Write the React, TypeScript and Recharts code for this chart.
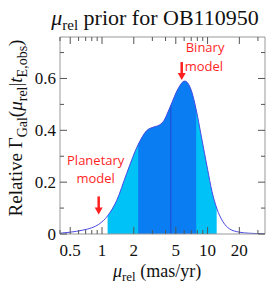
import { ComposedChart, Area, Line, XAxis, YAxis, ReferenceLine, ReferenceDot } from "recharts";

// mu_rel grid (mas/yr) and relative Gamma_Gal
const MU = [0.4, 0.5, 0.66, 0.8, 0.93, 1.13, 1.38, 1.71, 2.2, 2.64, 3.1, 3.48, 3.79, 4.48, 5.25, 6.06, 7.0, 7.8, 8.75, 10.0, 11.0, 12.2, 14.0, 16.1, 20, 25, 35];
const DENSITY = [0.003, 0.007, 0.015, 0.024, 0.037, 0.07, 0.13, 0.233, 0.345, 0.398, 0.413, 0.42, 0.433, 0.496, 0.56, 0.59, 0.555, 0.48, 0.374, 0.25, 0.165, 0.1, 0.047, 0.02, 0.007, 0.003, 0.001];

const BAND_2SIG = [1.13, 12.2];
const BAND_1SIG = [2.2, 7.8];
const MEDIAN = 4.48;
const PLANETARY_MU = 0.93;
const BINARY_MU = 5.69;

const X_MAJOR = [0.5, 1, 2, 5, 10, 20];
const X_MINOR = [0.4, 0.6, 0.7, 0.8, 0.9, 3, 4, 6, 7, 8, 9, 30];
const Y_TICKS = [0, 0.1, 0.2, 0.3, 0.4, 0.5, 0.6, 0.7];
const Y_LABELS = [0, 0.2, 0.4, 0.6];

const data = MU.map((mu, i) => ({
  mu,
  pdf: DENSITY[i],
  outer: mu >= BAND_2SIG[0] && mu <= BAND_2SIG[1] ? DENSITY[i] : null,
  inner: mu >= BAND_1SIG[0] && mu <= BAND_1SIG[1] ? DENSITY[i] : null,
}));

const medianY = DENSITY[MU.indexOf(MEDIAN)];
const planetY = 0.037;
const binaryY = 0.59;

const SERIF = "Liberation Serif, DejaVu Serif, serif";
const SANS = "Open Sans, Liberation Sans, sans-serif";
const TICK = "#555";
const FRAME = "#999";
const RED = "#ff1f1f";

const W = 273;
const H = 290;

function BottomTick(props: any) {
  const { x, y, payload } = props;
  const major = X_MAJOR.includes(payload.value);
  return (
    <g>
      <line x1={x} x2={x} y1={y} y2={y - (major ? 7 : 4)} stroke={TICK} />
      {major && (
        <text x={x} y={y + 22} textAnchor="middle" fontFamily={SERIF} fontSize={17} fill="#111">
          {payload.value}
        </text>
      )}
    </g>
  );
}

function TopTick(props: any) {
  const { x, y, payload } = props;
  const major = X_MAJOR.includes(payload.value);
  return <line x1={x} x2={x} y1={y} y2={y + (major ? 7 : 4)} stroke={TICK} />;
}

function LeftTick(props: any) {
  const { x, y, payload } = props;
  const major = Y_LABELS.includes(payload.value);
  return (
    <g>
      <line x1={x} x2={x + (major ? 7 : 4)} y1={y} y2={y} stroke={TICK} />
      {major && (
        <text x={x - 4} y={y + 6} textAnchor="end" fontFamily={SERIF} fontSize={17} fill="#111">
          {payload.value}
        </text>
      )}
    </g>
  );
}

function RightTick(props: any) {
  const { x, y, payload } = props;
  const major = Y_LABELS.includes(payload.value);
  return <line x1={x} x2={x - (major ? 7 : 4)} y1={y} y2={y} stroke={TICK} />;
}

function DownArrow({ x, y }: { x: number; y: number }) {
  return (
    <g>
      <line x1={x} x2={x} y1={y - 18} y2={y - 6} stroke={RED} strokeWidth={2.5} />
      <polygon points={`${x - 4},${y - 7} ${x + 4},${y - 7} ${x},${y}`} fill={RED} />
    </g>
  );
}

function PlanetaryMark(props: any) {
  const { cx, cy } = props;
  return (
    <g>
      <DownArrow x={cx} y={cy - 10} />
      <text x={cx - 3} y={cy - 59} textAnchor="middle" fontFamily={SANS} fontSize={13} fill={RED}>Planetary</text>
      <text x={cx - 3} y={cy - 41} textAnchor="middle" fontFamily={SANS} fontSize={13} fill={RED}>model</text>
    </g>
  );
}

function BinaryMark(props: any) {
  const { cx, cy } = props;
  return (
    <g>
      <DownArrow x={cx} y={cy - 1} />
      <text x={cx + 4} y={cy - 29} fontFamily={SANS} fontSize={13} fill={RED}>Binary</text>
      <text x={cx + 3} y={cy - 10} fontFamily={SANS} fontSize={13} fill={RED}>model</text>
    </g>
  );
}

export default function App() {
  const xProps = {
    type: "number" as const,
    dataKey: "mu",
    scale: "log" as const,
    domain: [0.4, 35],
    allowDataOverflow: true,
    ticks: [...X_MAJOR, ...X_MINOR].sort((a, b) => a - b),
    tickLine: false,
    tickSize: 0,
    tickMargin: 0,
    axisLine: { stroke: FRAME },
    interval: 0 as const,
  };
  const yProps = {
    type: "number" as const,
    domain: [0, 0.76],
    allowDataOverflow: true,
    ticks: Y_TICKS,
    tickLine: false,
    tickSize: 0,
    tickMargin: 0,
    axisLine: { stroke: FRAME },
    interval: 0 as const,
  };

  return (
    <div style={{ position: "absolute", left: 0, top: 0, width: W, height: H, background: "#fff" }}>
      <ComposedChart width={W} height={H} data={data} margin={{ top: 36, right: 7, bottom: 26, left: 30 }}>
        <XAxis xAxisId="main" orientation="bottom" height={30} {...xProps} tick={<BottomTick />} />
        <XAxis xAxisId="top" orientation="top" height={1} {...xProps} tick={<TopTick />} />
        <YAxis yAxisId="left" orientation="left" width={30} {...yProps} tick={<LeftTick />} />
        <YAxis yAxisId="right" orientation="right" width={1} {...yProps} tick={<RightTick />} />
        <Area xAxisId="main" yAxisId="left" type="monotone" dataKey="outer" stroke="none" fill="#00c2f6" fillOpacity={1} isAnimationActive={false} />
        <Area xAxisId="main" yAxisId="left" type="monotone" dataKey="inner" stroke="none" fill="#0b7df2" fillOpacity={1} isAnimationActive={false} />
        <ReferenceLine
          xAxisId="main"
          yAxisId="left"
          segment={[{ x: MEDIAN, y: 0 }, { x: MEDIAN, y: medianY }]}
          stroke="#1d4fd6"
          strokeWidth={1.2}
        />
        <Line xAxisId="main" yAxisId="left" type="monotone" dataKey="pdf" stroke="#4a4ae6" strokeWidth={1} dot={false} isAnimationActive={false} />
        <ReferenceDot xAxisId="main" yAxisId="left" x={PLANETARY_MU} y={planetY} shape={<PlanetaryMark />} />
        <ReferenceDot xAxisId="main" yAxisId="left" x={BINARY_MU} y={binaryY} shape={<BinaryMark />} />
      </ComposedChart>
      <svg width={W} height={H} style={{ position: "absolute", left: 0, top: 0, pointerEvents: "none" }}>
        <text x={155} y={25} textAnchor="middle" fontFamily={SERIF} fontSize={22} fill="#111">
          <tspan fontStyle="italic">μ</tspan>
          <tspan fontSize={15} dy={5}>rel</tspan>
          <tspan dy={-5}> prior for OB110950</tspan>
        </text>
        <text x={157} y={277} textAnchor="middle" fontFamily={SERIF} fontSize={18} fill="#111">
          <tspan fontStyle="italic">μ</tspan>
          <tspan fontSize={13} dy={4}>rel</tspan>
          <tspan dy={-4}> (mas/yr)</tspan>
        </text>
        <text transform="translate(22,128) rotate(-90)" textAnchor="middle" fontFamily={SERIF} fontSize={19} fill="#111">
          <tspan>Relative Γ</tspan>
          <tspan fontSize={14} dy={5}>Gal</tspan>
          <tspan dy={-5}>(</tspan>
          <tspan fontStyle="italic">μ</tspan>
          <tspan fontSize={14} dy={5}>rel</tspan>
          <tspan dy={-5}>|</tspan>
          <tspan fontStyle="italic">t</tspan>
          <tspan fontSize={14} dy={5}>E,obs</tspan>
          <tspan dy={-5}>)</tspan>
        </text>
      </svg>
    </div>
  );
}
